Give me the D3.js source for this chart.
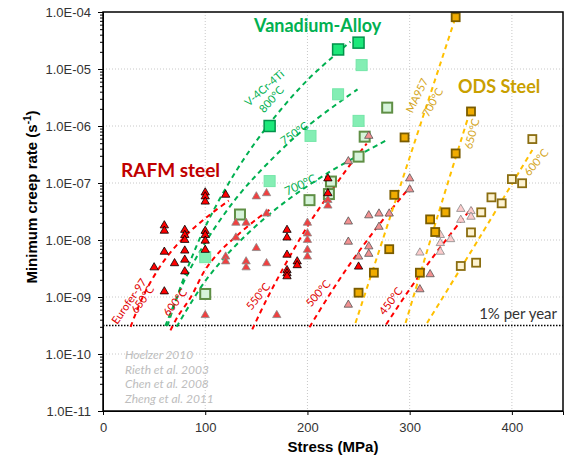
<!DOCTYPE html>
<html>
<head>
<meta charset="utf-8">
<script src="https://cdnjs.cloudflare.com/ajax/libs/d3/7.8.5/d3.min.js"></script>
<style>
  body { margin: 0; background: #fff; }
</style>
</head>
<body>
<div id="vis"></div>
<script>
// axis ticks
const X_TICKS = [0, 100, 200, 300, 400];
const X_TICK_LABELS = ['0', '100', '200', '300', '400'];
const Y_TICKS = [1e-11, 1e-10, 1e-9, 1e-8, 1e-7, 1e-6, 1e-5, 1e-4];
const Y_TICK_LABELS = ['1.0E-11', '1.0E-10', '1.0E-09', '1.0E-08', '1.0E-07', '1.0E-06', '1.0E-05', '1.0E-04'];

// 1% strain per year
const ONE_PCT_YEAR = 3.17e-10;

// points: [stress MPa, minimum creep rate 1/s]
// RAFM steel (triangles)
const RAFM_DARK = [
    [50, 3.3e-9], [60, 1.8e-8], [60, 1.45e-8], [60, 6.2e-9], [60, 1.25e-9], [70, 3.9e-9],
    [80, 1.5e-8], [80, 1.22e-8], [80, 1.0e-8], [80, 6.5e-9], [80, 4.5e-9], [80, 2.8e-9],
    [100, 6.8e-8], [100, 5.8e-8], [100, 4.7e-8], [100, 1.44e-8], [100, 1.22e-8], [100, 9.7e-9], [100, 6.7e-9],
    [120, 6.2e-8], [180, 1.5e-8], [180, 1.1e-8], [180, 5.5e-9], [180, 2.95e-9], [180, 2.6e-9], [180, 2.3e-9],
    [190, 4.2e-9], [190, 3.6e-9], [220, 1.2e-7], [220, 6.6e-8], [250, 3.4e-9]
];
const RAFM_MID = [
    [100, 4.8e-10], [120, 5.1e-9], [120, 4.2e-9], [130, 2.0e-8], [130, 1.1e-8], [140, 2.0e-8],
    [140, 4.2e-9], [140, 3.3e-9], [150, 5.8e-8], [150, 7.2e-9], [160, 6.6e-8], [160, 2.9e-8],
    [160, 3.9e-9], [170, 4.8e-10], [200, 2.0e-8], [200, 1.3e-8], [200, 1.0e-8], [200, 6.7e-9],
    [200, 5.1e-9], [220, 5.0e-8], [220, 4.0e-8]
];
const RAFM_PINK = [
    [240, 2.4e-7], [260, 6.7e-7], [300, 1.2e-7], [300, 7.7e-8], [240, 2.1e-8], [260, 2.7e-8],
    [270, 2.9e-8], [280, 2.9e-8], [270, 1.7e-8], [240, 9.3e-9], [260, 7.7e-9], [260, 5.7e-9],
    [250, 5.1e-9], [240, 7.3e-10], [310, 1.36e-9], [320, 2.5e-9]
];
const RAFM_PALE = [
    [310, 6.0e-9], [330, 1.22e-8], [330, 8.8e-9], [330, 6.2e-9], [340, 1.03e-8],
    [350, 3.5e-8], [350, 2.25e-8], [360, 3.2e-8], [360, 2.55e-8]
];

// Vanadium alloy V-4Cr-4Ti (squares)
const VAN_800 = [[163, 1.0e-6], [230, 2.2e-5], [250, 2.9e-5]];
const VAN_750 = [[100, 5.0e-9], [163, 1.08e-7], [203, 6.7e-7], [230, 3.6e-6], [250, 1.23e-6], [253, 1.17e-5]];
const VAN_700 = [[100, 1.13e-9], [134, 2.8e-8], [202, 5.0e-8], [221, 6.4e-8], [223, 1.06e-7],
                 [250, 2.9e-7], [256, 6.5e-7], [278, 2.1e-6]];

// ODS steel (squares)
const ODS_GOLD = [[250, 1.19e-9], [265, 2.67e-9], [280, 6.9e-9], [285, 6.2e-8], [295, 6.3e-7], [310, 2.67e-9],
                  [320, 2.3e-8], [325, 1.38e-8], [335, 3.06e-8], [345, 3.3e-7], [345, 8.1e-5], [360, 1.8e-6]];
const ODS_PALE = [[350, 3.5e-9], [360, 1.36e-8], [365, 4.0e-9], [370, 3.06e-8], [380, 5.6e-8],
                  [390, 4.4e-8], [400, 1.17e-7], [410, 9.9e-8], [420, 5.9e-7]];

// dashed fit lines
const FIT_V800 = [[63, 3.1e-10], [80, 2.4e-9], [100, 1.7e-8], [130, 1.6e-7], [162, 1.05e-6], [200, 6.4e-6], [242, 3.0e-5]];
const FIT_V750 = [[61, 3.1e-10], [80, 2.0e-9], [100, 9.0e-9], [130, 5.3e-8], [161, 2.2e-7], [200, 9.9e-7], [249, 4.4e-6]];
const FIT_V700 = [[72, 3.0e-10], [100, 1.9e-9], [130, 8.1e-9], [170, 3.6e-8], [220, 1.5e-7], [278, 5.7e-7]];
const FIT_R650 = [[27, 3.0e-10], [40, 1.1e-9], [60, 4.4e-9], [80, 1.15e-8], [100, 2.4e-8], [123, 4.9e-8]];
const FIT_R600 = [[66, 2.6e-10], [73, 4.5e-10], [86, 1.0e-9], [100, 3.0e-9], [115, 6.5e-9], [130, 1.15e-8], [150, 2.3e-8], [165, 3.6e-8]];
const FIT_R550 = [[146, 2.7e-10], [160, 9.0e-10], [175, 2.9e-9], [190, 8.7e-9], [205, 2.4e-8], [224, 7.5e-8], [240, 1.9e-7], [258, 4.9e-7]];
const FIT_R500 = [[202, 2.95e-10], [220, 9.9e-10], [240, 3.45e-9], [260, 1.08e-8], [280, 3.1e-8], [301, 8.8e-8]];
const FIT_R450 = [[277, 3.3e-10], [300, 1.37e-9], [320, 4.3e-9], [340, 1.27e-8], [361, 3.7e-8]];
const FIT_O700 = [[247, 3.5e-10], [296, 1.7e-7], [345, 8.2e-5]];
const FIT_O650 = [[296, 3.5e-10], [327, 2.5e-8], [359, 1.8e-6]];
const FIT_O600 = [[317, 3.5e-10], [369, 1.15e-8], [420, 3.8e-7]];

const SOURCES = ['Hoelzer 2010', 'Rieth et al. 2003', 'Chen et al. 2008', 'Zheng et al. 2011'];

// setting up the frame
const FRAME_WIDTH = 577;
const FRAME_HEIGHT = 455;
const PLOT = {left: 103, right: 563, top: 12, bottom: 411};
const AXIS_FONT = 'Liberation Sans, Arial, sans-serif';
const NOTE_FONT = 'Lato, sans-serif';

const GREEN = '#00b050';
const RED = '#ff0000';
const GOLD = '#ffc000';

const svg = d3.select('#vis')
    .append('svg')
        .attr('width', FRAME_WIDTH)
        .attr('height', FRAME_HEIGHT);

const X_SCALE = d3.scaleLinear()
    .domain([0, 450])
    .range([PLOT.left, PLOT.right]);

const Y_SCALE = d3.scaleLog()
    .domain([1e-11, 1e-4])
    .range([PLOT.bottom, PLOT.top]);

// dotted grid
const grid = svg.append('g')
    .attr('stroke', '#c8c8c8')
    .attr('stroke-dasharray', '1,2');
grid.selectAll('.vx').data(X_TICKS.slice(1)).enter().append('line')
    .attr('x1', d => X_SCALE(d)).attr('x2', d => X_SCALE(d))
    .attr('y1', PLOT.top).attr('y2', PLOT.bottom);
grid.selectAll('.hy').data(Y_TICKS.slice(1, -1)).enter().append('line')
    .attr('y1', d => Y_SCALE(d)).attr('y2', d => Y_SCALE(d))
    .attr('x1', PLOT.left).attr('x2', PLOT.right);

// minor log ticks
svg.append('g')
    .attr('transform', 'translate(' + PLOT.left + ',0)')
    .call(d3.axisLeft(Y_SCALE).ticks(10).tickSize(3).tickFormat(''))
    .call(g => g.select('.domain').remove());

// y axis
svg.append('g')
    .attr('transform', 'translate(' + PLOT.left + ',0)')
    .call(d3.axisLeft(Y_SCALE).tickValues(Y_TICKS).tickSize(5).tickPadding(7)
        .tickFormat((d, i) => Y_TICK_LABELS[i]))
    .attr('font-size', '13px')
    .attr('font-family', AXIS_FONT)
    .call(g => g.selectAll('text').attr('fill', '#333'));

// x axis
svg.append('g')
    .attr('transform', 'translate(0,' + PLOT.bottom + ')')
    .call(d3.axisBottom(X_SCALE).tickValues(X_TICKS).tickSize(4).tickPadding(8)
        .tickFormat((d, i) => X_TICK_LABELS[i]))
    .attr('font-size', '13px')
    .attr('font-family', AXIS_FONT)
    .call(g => g.selectAll('text').attr('fill', '#333'));

// axis titles
svg.append('text')
    .attr('x', (PLOT.left + PLOT.right) / 2).attr('y', 452)
    .attr('text-anchor', 'middle')
    .attr('font-family', AXIS_FONT).attr('font-weight', 'bold').attr('font-size', '15px')
    .text('Stress (MPa)');

const yTitle = svg.append('text')
    .attr('transform', 'translate(37,197) rotate(-90)')
    .attr('text-anchor', 'middle')
    .attr('font-family', AXIS_FONT).attr('font-weight', 'bold').attr('font-size', '15px');
yTitle.append('tspan').text('Minimum creep rate (s');
yTitle.append('tspan').attr('font-size', '10px').attr('dy', -6).text('-1');
yTitle.append('tspan').attr('dy', 6).text(')');

// 1% per year line
svg.append('line')
    .attr('x1', PLOT.left).attr('x2', PLOT.right)
    .attr('y1', Y_SCALE(ONE_PCT_YEAR)).attr('y2', Y_SCALE(ONE_PCT_YEAR))
    .attr('stroke', '#000').attr('stroke-width', 1.5).attr('stroke-dasharray', '1.5,1.5');
svg.append('text')
    .attr('x', PLOT.right - 6).attr('y', Y_SCALE(ONE_PCT_YEAR) - 6)
    .attr('text-anchor', 'end')
    .attr('font-family', NOTE_FONT).attr('font-size', '15px').attr('fill', '#333')
    .text('1% per year');

// dashed fit lines
const line = d3.line()
    .x(d => X_SCALE(d[0]))
    .y(d => Y_SCALE(d[1]))
    .curve(d3.curveCatmullRom.alpha(0.5));

function fit(data, color) {
    svg.append('path')
        .attr('d', line(data))
        .attr('fill', 'none')
        .attr('stroke', color)
        .attr('stroke-width', 2)
        .attr('stroke-dasharray', '5,4');
}
[FIT_V800, FIT_V750, FIT_V700].forEach(d => fit(d, GREEN));
[FIT_R650, FIT_R600, FIT_R550, FIT_R500, FIT_R450].forEach(d => fit(d, RED));
[FIT_O700, FIT_O650, FIT_O600].forEach(d => fit(d, GOLD));

// markers
function squares(data, side, fill, stroke, sw) {
    svg.append('g').selectAll('rect')
        .data(data)
        .enter()
        .append('rect')
        .attr('x', d => X_SCALE(d[0]) - side / 2)
        .attr('y', d => Y_SCALE(d[1]) - side / 2)
        .attr('width', side)
        .attr('height', side)
        .attr('fill', fill)
        .attr('stroke', stroke)
        .attr('stroke-width', sw);
}
function triangles(data, fill, stroke) {
    svg.append('g').selectAll('path')
        .data(data)
        .enter()
        .append('path')
        .attr('d', d3.symbol(d3.symbolTriangle, 30))
        .attr('transform', d => 'translate(' + X_SCALE(d[0]) + ',' + Y_SCALE(d[1]) + ')')
        .attr('fill', fill)
        .attr('stroke', stroke)
        .attr('stroke-width', 0.8);
}

squares(VAN_700, 10, '#d6f4da', '#5f8f45', 2);
squares(VAN_750, 11, '#84eeb4', '#74e6a8', 1);
squares(VAN_800, 11, '#1de87a', '#00924a', 1.5);
triangles(RAFM_MID, '#f04040', '#8c8c8c');
triangles(RAFM_DARK, '#ff0000', '#000');
triangles(RAFM_PINK, '#f29090', '#555');
triangles(RAFM_PALE, '#fccccc', '#888');
squares(ODS_PALE, 8, '#fdf3d2', '#8a6d10', 1.8);
squares(ODS_GOLD, 8, '#f0ac00', '#7a5c00', 1.8);

// plot border
svg.append('rect')
    .attr('x', PLOT.left).attr('y', PLOT.top)
    .attr('width', PLOT.right - PLOT.left).attr('height', PLOT.bottom - PLOT.top)
    .attr('fill', 'none').attr('stroke', '#000').attr('stroke-width', 1.5);

// curve labels, placed in data coordinates
function note(txt, s, r, angle, color, size) {
    svg.append('text')
        .attr('transform', 'translate(' + X_SCALE(s) + ',' + Y_SCALE(r) + ') rotate(' + angle + ')')
        .attr('text-anchor', 'middle')
        .attr('dominant-baseline', 'middle')
        .attr('font-family', NOTE_FONT)
        .attr('font-size', (size || 11) + 'px')
        .attr('fill', color)
        .text(txt);
}
note('V-4Cr-4Ti', 158.5, 4.46e-6, -41, GREEN);
note('800°C', 165.6, 2.86e-6, -48, GREEN);
note('750°C', 187.8, 7.2e-7, -34, GREEN);
note('700°C', 193.7, 8.9e-8, -25, GREEN, 12);
note('Eurofer-97', 26.4, 8.2e-10, -55, '#e00000');
note('650°C', 39.6, 8.85e-10, -55, '#e00000');
note('600°C', 71.4, 7.85e-10, -52, '#e00000');
note('550°C', 152.6, 1.0e-9, -51, '#e00000');
note('500°C', 211.3, 1.13e-9, -49, '#e00000');
note('450°C', 282.4, 8.3e-10, -53, '#e00000');
note('MA957', 308.2, 3.36e-6, -64, '#d4a520');
note('700°C', 323.3, 2.54e-6, -61, '#d4a520');
note('650°C', 362, 7.2e-7, -75, '#d4a520');
note('600°C', 424.6, 2.24e-7, -50, '#d4a520');

// group titles
function title(txt, x, y, color, size) {
    svg.append('text')
        .attr('x', x).attr('y', y)
        .attr('font-family', NOTE_FONT).attr('font-weight', 'bold').attr('font-size', size + 'px')
        .attr('fill', color)
        .text(txt);
}
title('Vanadium-Alloy', 254, 32, GREEN, 18);
title('RAFM steel', 121, 177, '#c00000', 19);
title('ODS Steel', 458, 93, '#c9a000', 18);

// data sources
svg.append('g').selectAll('text')
    .data(SOURCES)
    .enter()
    .append('text')
    .attr('x', 125)
    .attr('y', (d, i) => 359 + i * 14.7)
    .attr('font-family', NOTE_FONT).attr('font-style', 'italic').attr('font-size', '12px')
    .attr('fill', '#bdbdbd')
    .text(d => d);
</script>
</body>
</html>
